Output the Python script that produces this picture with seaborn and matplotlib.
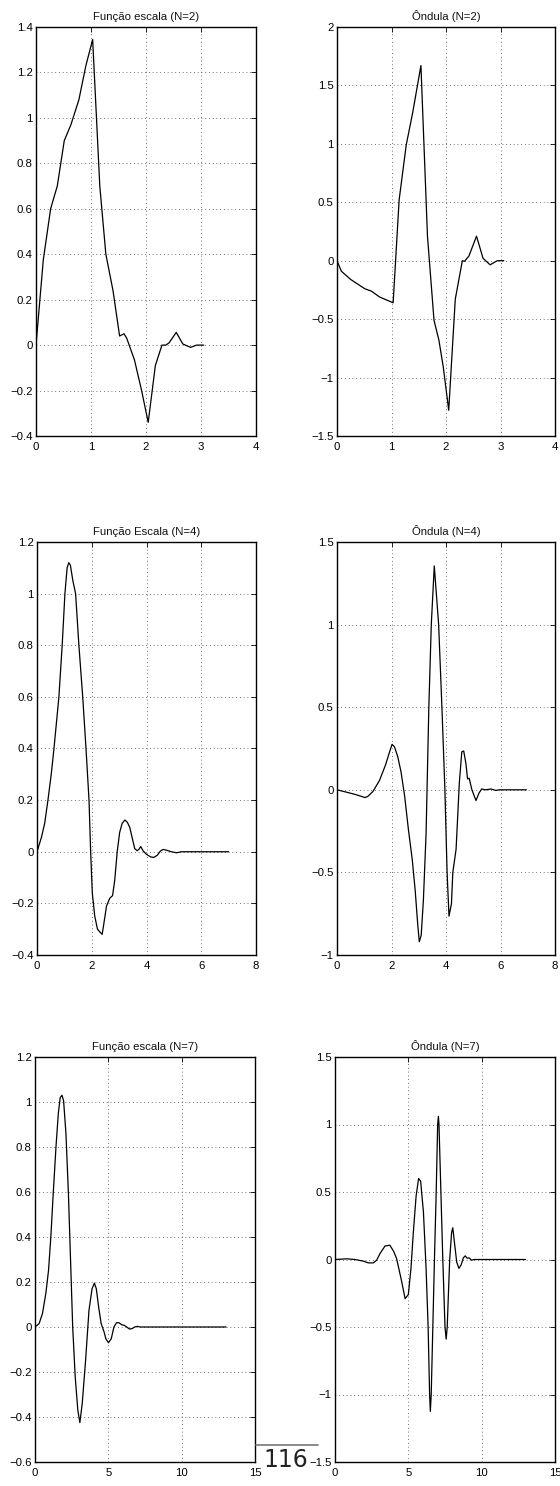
import numpy as np
import matplotlib
matplotlib.use("Agg")
import matplotlib.pyplot as plt
import seaborn as sns
from matplotlib.ticker import FuncFormatter, MultipleLocator
from matplotlib import font_manager

# ---------------- data ----------------
titles = ["Função escala (N=2)", "Ôndula (N=2)",
          "Função Escala (N=4)", "Ôndula (N=4)",
          "Função escala (N=7)", "Ôndula (N=7)"]

phi2_x = [0, 0.133, 0.266, 0.387, 0.514, 0.635, 0.78, 0.907, 1.03, 1.16, 1.27,
          1.40, 1.52, 1.60, 1.65, 1.79, 1.92, 2.04, 2.17, 2.29, 2.36, 2.42,
          2.55, 2.67, 2.81, 2.92, 3.05]
phi2_y = [0, 0.376, 0.60, 0.70, 0.90, 0.97, 1.08, 1.23, 1.345, 0.70, 0.40,
          0.24, 0.04, 0.05, 0.03, -0.065, -0.20, -0.34, -0.09, 0.0, 0.0, 0.01,
          0.056, 0.005, -0.01, 0.0, 0.0]

psi2_x = [0, 0.08, 0.25, 0.51, 0.63, 0.78, 1.03, 1.14, 1.27, 1.39, 1.54, 1.66,
          1.78, 1.87, 1.95, 2.05, 2.17, 2.30, 2.34, 2.42, 2.56, 2.68, 2.81,
          2.94, 3.06]
psi2_y = [0, -0.09, -0.16, -0.24, -0.26, -0.31, -0.36, 0.52, 0.99, 1.27, 1.67,
          0.21, -0.51, -0.68, -0.91, -1.28, -0.33, 0.0, -0.005, 0.04, 0.21,
          0.02, -0.035, 0.0, 0.0]

phi4_x = [0, 0.16, 0.28, 0.40, 0.52, 0.62, 0.71, 0.80, 0.92, 1.02, 1.10, 1.16,
          1.22, 1.31, 1.41, 1.53, 1.67, 1.79, 1.90, 1.96, 2.02, 2.11, 2.21,
          2.29, 2.38, 2.44, 2.54, 2.66, 2.76, 2.84, 2.93, 3.02, 3.11, 3.21,
          3.30, 3.39, 3.49, 3.57, 3.66, 3.72, 3.79, 3.88, 4.0, 4.15, 4.27,
          4.39, 4.51, 4.61, 4.73, 4.91, 5.10, 5.28, 7.0]
phi4_y = [0, 0.055, 0.11, 0.20, 0.30, 0.40, 0.50, 0.60, 0.80, 1.00, 1.10, 1.12,
          1.11, 1.05, 1.00, 0.80, 0.60, 0.40, 0.20, 0.0, -0.16, -0.25, -0.30,
          -0.31, -0.32, -0.28, -0.21, -0.18, -0.17, -0.11, 0.0, 0.075, 0.11,
          0.123, 0.114, 0.094, 0.048, 0.012, 0.004, 0.009, 0.02, 0.003, -0.01,
          -0.02, -0.022, -0.014, 0.003, 0.009, 0.006, 0.0, -0.004, 0.0, 0.0]

psi4_x = [0, 0.34, 0.71, 1.03, 1.13, 1.32, 1.56, 1.78, 1.93, 2.02, 2.11, 2.23,
          2.35, 2.48, 2.62, 2.76, 2.87, 2.96, 3.02, 3.09, 3.17, 3.27, 3.37,
          3.46, 3.57, 3.73, 3.85, 3.96, 4.04, 4.11, 4.20, 4.25, 4.37, 4.49,
          4.58, 4.65, 4.73, 4.79, 4.85, 4.95, 5.10, 5.21, 5.31, 5.45, 5.65,
          5.83, 5.95, 6.95]
psi4_y = [0, -0.014, -0.03, -0.047, -0.04, -0.01, 0.057, 0.15, 0.23, 0.275,
          0.26, 0.20, 0.108, -0.035, -0.24, -0.42, -0.61, -0.81, -0.92, -0.88,
          -0.67, -0.26, 0.5, 1.0, 1.355, 1.0, 0.5, 0.0, -0.5, -0.765, -0.69,
          -0.5, -0.36, 0.045, 0.23, 0.235, 0.16, 0.066, 0.07, 0.0, -0.065,
          -0.02, 0.005, 0.0, 0.005, -0.004, 0.0, 0.0]

phi7_x = [0, 0.28, 0.51, 0.74, 0.92, 1.08, 1.24, 1.43, 1.59, 1.72, 1.84, 1.95,
          2.11, 2.28, 2.41, 2.57, 2.74, 2.92, 3.06, 3.22, 3.45, 3.68, 3.89,
          4.05, 4.18, 4.34, 4.51, 4.71, 4.83, 5.01, 5.20, 5.38, 5.56, 5.72,
          5.91, 6.09, 6.25, 6.44, 6.62, 6.80, 6.99, 7.17, 13.03]
phi7_y = [0, 0.015, 0.06, 0.15, 0.25, 0.40, 0.59, 0.80, 0.95, 1.02, 1.03,
          1.005, 0.86, 0.59, 0.325, 0.0, -0.22, -0.37, -0.425, -0.34, -0.148,
          0.074, 0.17, 0.195, 0.17, 0.089, 0.015, -0.022, -0.052, -0.07,
          -0.052, 0.0, 0.019, 0.019, 0.01, 0.007, 0.0, -0.009, -0.007, 0.0,
          0.003, 0.0, 0.0]

psi7_x = [0, 0.80, 1.36, 1.93, 2.27, 2.61, 2.84, 3.07, 3.41, 3.74, 4.0, 4.2,
          4.54, 4.78, 5.0, 5.18, 5.34, 5.53, 5.70, 5.84, 6.03, 6.21, 6.35,
          6.45, 6.50, 6.56, 6.67, 6.78, 6.90, 7.0, 7.05, 7.09, 7.22, 7.35,
          7.50, 7.58, 7.65, 7.82, 7.95, 8.03, 8.15, 8.30, 8.45, 8.60, 8.75,
          8.88, 9.0, 9.15, 9.30, 9.5, 13.0]
psi7_y = [0, 0.005, 0.0, -0.012, -0.025, -0.025, -0.005, 0.044, 0.10, 0.106,
          0.06, 0.007, -0.16, -0.29, -0.26, -0.066, 0.20, 0.47, 0.60, 0.58,
          0.35, -0.066, -0.5, -1.0, -1.125, -1.0, -0.5, 0.0, 0.5, 1.0, 1.06,
          1.0, 0.5, 0.0, -0.5, -0.59, -0.5, 0.0, 0.2, 0.235, 0.12, -0.02,
          -0.066, -0.04, 0.012, 0.027, 0.01, 0.012, -0.005, 0.0, 0.0]

series = [(phi2_x, phi2_y), (psi2_x, psi2_y),
          (phi4_x, phi4_y), (psi4_x, psi4_y),
          (phi7_x, phi7_y), (psi7_x, psi7_y)]

xlims = [(0, 4), (0, 4), (0, 8), (0, 8), (0, 15), (0, 15)]
xsteps = [1, 1, 2, 2, 5, 5]
ylims = [(-0.4, 1.4), (-1.5, 2), (-0.4, 1.2), (-1, 1.5), (-0.6, 1.2), (-1.5, 1.5)]
ysteps = [0.2, 0.5, 0.2, 0.5, 0.2, 0.5]

page_number = "116"

# ---------------- figure ----------------
sns.set_theme(style="white")
plt.rcParams['font.family'] = ['Liberation Sans', 'DejaVu Sans']

W, H = 560, 1486
fig = plt.figure(figsize=(W / 100, H / 100), dpi=100)

boxes = [  # (x0, x1, y0, y1) in pixels
    (36, 256, 27, 436), (337, 555, 27, 436),
    (37, 256, 542, 955), (337, 555, 542, 955),
    (35, 255, 1057, 1462), (335, 555, 1057, 1462),
]


def fmt(v, pos):
    s = "%g" % round(v, 6)
    if s == "-0":
        s = "0"
    return s.replace("-", "\u2212")


for i, (x0, x1, y0, y1) in enumerate(boxes):
    ax = fig.add_axes([x0 / W, 1 - y1 / H, (x1 - x0) / W, (y1 - y0) / H])
    xs, ys = series[i]
    sns.lineplot(x=xs, y=ys, ax=ax, color="black", linewidth=0.9,
                 estimator=None, sort=False)
    ax.set_xlim(*xlims[i])
    ax.set_ylim(*ylims[i])
    ax.xaxis.set_major_locator(MultipleLocator(xsteps[i]))
    ax.yaxis.set_major_locator(MultipleLocator(ysteps[i]))
    ax.xaxis.set_major_formatter(FuncFormatter(fmt))
    ax.yaxis.set_major_formatter(FuncFormatter(fmt))
    ax.grid(True, color="#444444", linestyle=(0, (1, 3.5)), linewidth=0.6)
    ax.tick_params(direction="in", top=True, right=True, length=3.5,
                   width=0.6, labelsize=8.2, colors="black")
    ax.tick_params(axis="x", pad=4)
    ax.tick_params(axis="y", pad=2.5)
    for sp in ax.spines.values():
        sp.set_color("black")
        sp.set_linewidth(1.0)
    ax.set_title(titles[i], fontsize=8.2, pad=5, color="#111111")
    ax.set_xlabel("")
    ax.set_ylabel("")

# page number with overline
names = {f.name for f in font_manager.fontManager.ttflist}
pn_family = ["Liberation Sans Narrow"] if "Liberation Sans Narrow" in names else ["DejaVu Sans"]
pn_size = 21 if pn_family[0] == "Liberation Sans Narrow" else 17
fig.add_artist(plt.Line2D([256 / W, 318 / W], [1 - 1445 / H, 1 - 1445 / H],
                          color="#777777", linewidth=1.2))
fig.text(286 / W, 1 - 1460 / H, page_number, ha="center", va="center",
         fontsize=pn_size, color="#222222", family=pn_family)

fig.savefig("out.png", dpi=100)
